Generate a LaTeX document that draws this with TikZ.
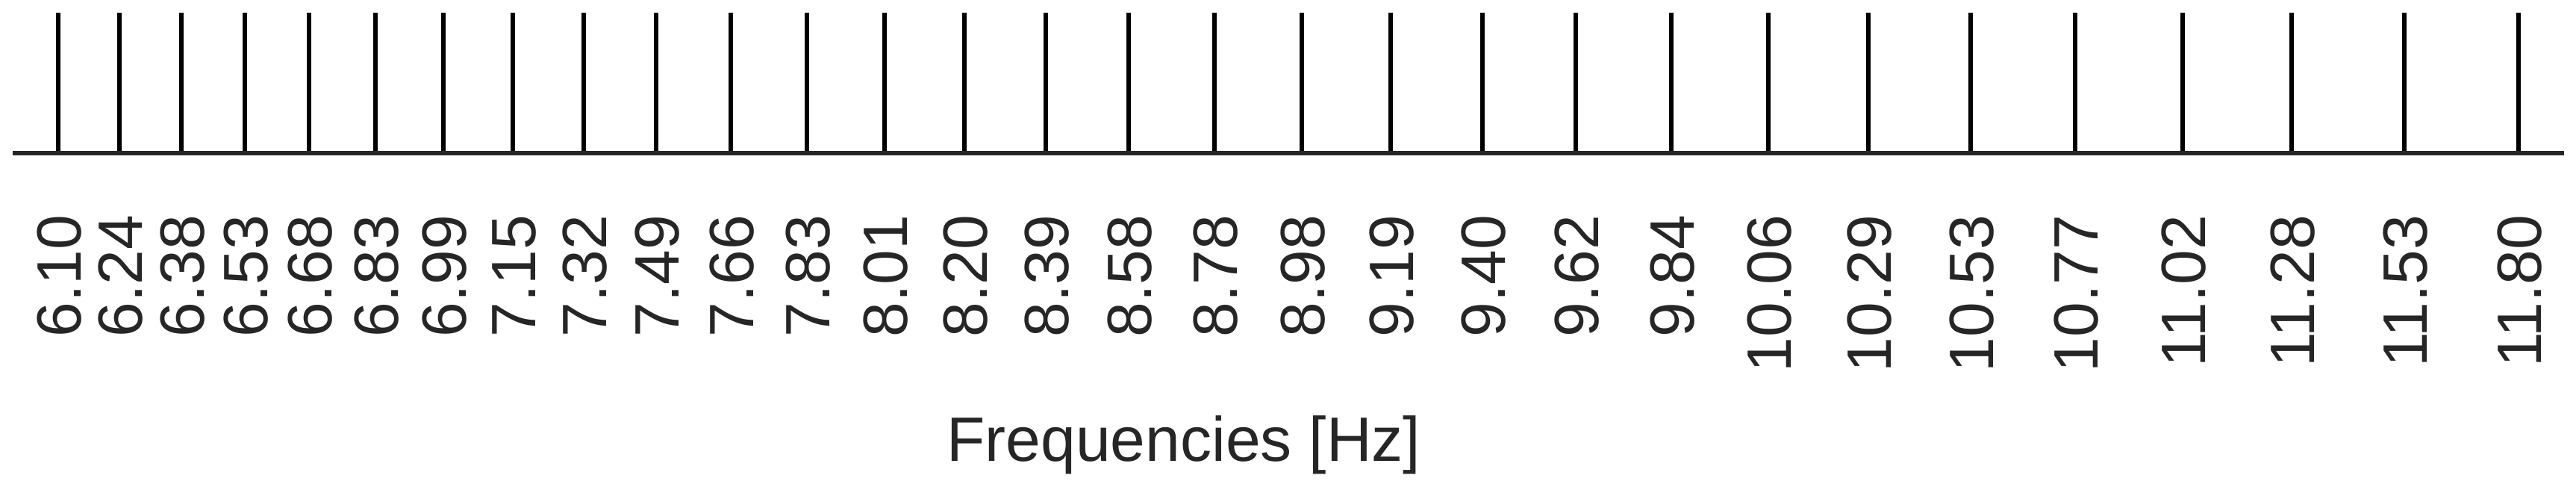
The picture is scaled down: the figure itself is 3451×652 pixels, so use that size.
\documentclass[tikz,border=0pt]{standalone}
\usepackage{fontspec}
\setmainfont{Liberation Sans}
\definecolor{ink}{HTML}{262626}
\begin{document}
\begin{tikzpicture}[x=0.25pt,y=-0.25pt,
  tickline/.style={line width=1.5pt,black},
  axisline/.style={line width=1.5pt,ink},
  freqlabel/.style={rotate=90,anchor=east,inner sep=0pt,text=ink,font=\fontsize{21pt}{25pt}\selectfont},
  axistitle/.style={anchor=base,inner sep=0pt,text=ink,font=\fontsize{21pt}{25pt}\selectfont}]
\useasboundingbox (0,0) rectangle (3451,652);
\coordinate (aL) at (17,205);
\coordinate (aR) at (3435,205);
\foreach \x/\f [count=\i] in {78/6.10,160/6.24,243/6.38,328/6.53,414/6.68,503/6.83,594/6.99,687/7.15,782/7.32,879/7.49,979/7.66,1081/7.83,1185/8.01,1292/8.20,1401/8.39,1512/8.58,1627/8.78,1744/8.98,1863/9.19,1986/9.40,2111/9.62,2239/9.84,2369/10.06,2503/10.29,2640/10.53,2780/10.77,2924/11.02,3070/11.28,3221/11.53,3374/11.80}{
  \coordinate (t\i) at (\x,17);
  \coordinate (b\i) at (\x,205);
  \draw[tickline] (b\i) -- (t\i);
  \node[freqlabel] (l\i) at (\x+2,287) {\f};
}
\draw[axisline] (aL) -- (aR);
\node[axistitle] (title) at (1586,617) {Frequencies [Hz]};
\end{tikzpicture}
\end{document}
